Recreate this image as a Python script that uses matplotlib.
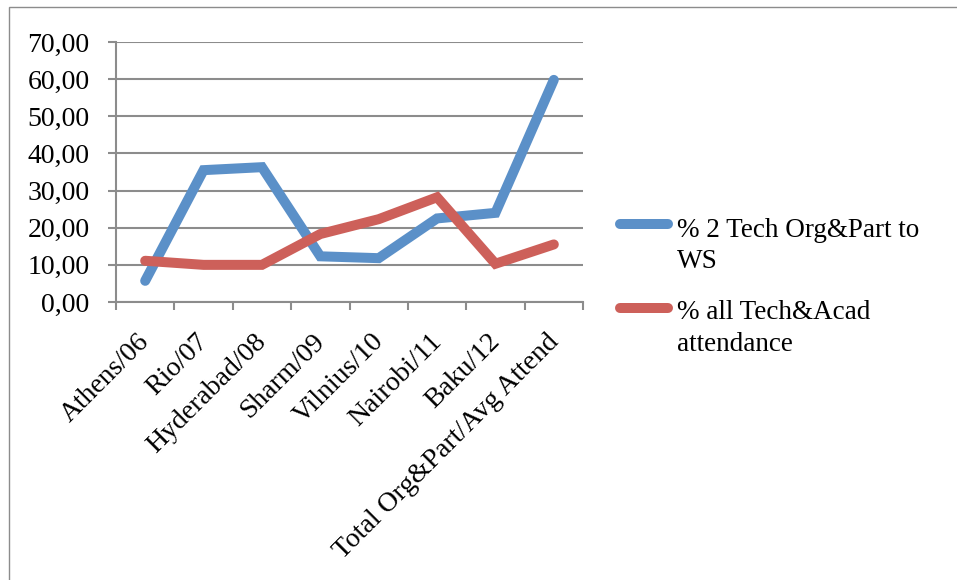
import matplotlib
matplotlib.use("Agg")
import matplotlib.pyplot as plt
from matplotlib.lines import Line2D
from matplotlib.patches import Rectangle
from matplotlib.transforms import ScaledTranslation

categories = ["Athens/06", "Rio/07", "Hyderabad/08", "Sharm/09", "Vilnius/10",
              "Nairobi/11", "Baku/12", "Total Org&Part/Avg Attend"]
series_names = ["% 2 Tech Org&Part to\nWS", "% all Tech&Acad\nattendance"]
tech_org_part = [5.7, 35.5, 36.3, 12.3, 11.8, 22.5, 24.0, 59.8]
all_tech_acad = [11.1, 10.0, 10.0, 18.3, 22.3, 28.2, 10.3, 15.5]
yticks = [0, 10, 20, 30, 40, 50, 60, 70]
ytick_labels = ["0,00", "10,00", "20,00", "30,00", "40,00", "50,00", "60,00", "70,00"]

colors = ["#5B90C8", "#CD605A"]
W, H = 957, 580
plt.rcParams['font.family'] = ['Liberation Serif', 'DejaVu Serif']

fig = plt.figure(figsize=(W / 100, H / 100), dpi=100)
fig.patch.set_facecolor("white")
# outer border
fig.add_artist(Rectangle((9 / W, -0.01), 1.2, 1 - 7 / H + 0.01, transform=fig.transFigure,
                         fill=False, edgecolor="#8c8c8c", linewidth=1.0))

left, right, top, bottom = 116, 583, 42, 302
ax = fig.add_axes([left / W, 1 - bottom / H, (right - left) / W, (bottom - top) / H])
x = list(range(len(categories)))
for vals, c in zip([tech_org_part, all_tech_acad], colors):
    ax.plot(x, vals, color=c, linewidth=7.2, solid_capstyle="round", solid_joinstyle="miter")

ax.set_xlim(-0.5, len(categories) - 0.5)
ax.set_ylim(0, 70)
ax.set_yticks(yticks)
ax.set_yticklabels(ytick_labels, fontsize=20)
ax.yaxis.grid(True, color="#8c8c8c", linewidth=1.5)
ax.set_axisbelow(True)
ax.set_xticks([i - 0.5 for i in range(len(categories) + 1)])
ax.set_xticklabels([])

# category labels, rotated
off = ScaledTranslation(-8 / 100, -27 / 100, fig.dpi_scale_trans)
for xi, cat in zip(x, categories):
    ax.text(xi, 0, cat, transform=ax.get_xaxis_transform() + off, rotation=45,
            ha="right", va="top", rotation_mode="anchor", fontsize=20, clip_on=False)

ax.tick_params(axis="x", which="major", length=6, width=1.5, color="#8c8c8c")
ax.tick_params(axis="y", length=6, width=1.5, color="#8c8c8c", pad=13)
for s in ["top", "right"]:
    ax.spines[s].set_visible(False)
for s in ["left", "bottom"]:
    ax.spines[s].set_color("#8c8c8c")
    ax.spines[s].set_linewidth(1.5)

# legend (manual)
line_y = [224, 308]
baselines = [[237, 268], [319, 351]]
for name, c, yy, bls in zip(series_names, colors, line_y, baselines):
    fig.add_artist(Line2D([620 / W, 668 / W], [1 - yy / H, 1 - yy / H], transform=fig.transFigure,
                          color=c, linewidth=7.2, solid_capstyle="round"))
    for part, bl in zip(name.split("\n"), bls):
        fig.text(677 / W, 1 - bl / H, part, fontsize=19.5, va="baseline", ha="left")

fig.savefig("out.png", dpi=100)
